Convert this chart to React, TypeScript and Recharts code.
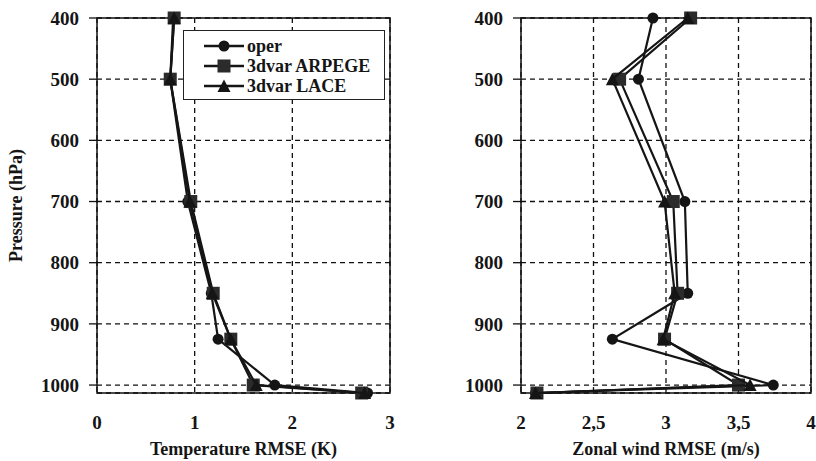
import React from "react";
import {
  ScatterChart,
  Scatter,
  XAxis,
  YAxis,
  CartesianGrid,
  ReferenceArea,
  Legend,
} from "recharts";

// pressure levels (hPa), surface last
const levels = [400, 500, 700, 850, 925, 1000, 1013];

// temperature RMSE (K)
const tempOper = [0.78, 0.75, 0.93, 1.17, 1.24, 1.82, 2.77];
const tempArpege = [0.79, 0.75, 0.96, 1.19, 1.37, 1.6, 2.71];
const tempLace = [0.79, 0.75, 0.95, 1.18, 1.37, 1.63, 2.74];

// zonal wind RMSE (m/s)
const windOper = [2.91, 2.81, 3.13, 3.15, 2.63, 3.74, 2.1];
const windArpege = [3.17, 2.68, 3.05, 3.08, 2.99, 3.5, 2.11];
const windLace = [3.15, 2.63, 2.99, 3.06, 2.98, 3.58, 2.1];

const pressureTicks = [400, 500, 600, 700, 800, 900, 1000];
const tempTicks = [0, 1, 2, 3];
const windTicks = [2, 2.5, 3, 3.5, 4];

const seriesNames = ["oper", "3dvar ARPEGE", "3dvar LACE"];

const FONT = '"Liberation Serif", "Times New Roman", serif';
const INK = "#151515";

const toPoints = (values: number[]) =>
  values.map((x, i) => ({ x, p: levels[i] }));

type Marker = "circle" | "square" | "triangle";
const markers: Marker[] = ["circle", "square", "triangle"];

function drawMarker(kind: Marker, cx: number, cy: number) {
  if (kind === "circle") return <circle cx={cx} cy={cy} r={5.5} fill={INK} />;
  if (kind === "square")
    return <rect x={cx - 6.5} y={cy - 6.5} width={13} height={13} fill="#2b2b2b" />;
  return (
    <polygon
      points={`${cx},${cy - 6.5} ${cx - 6.5},${cy + 6} ${cx + 6.5},${cy + 6}`}
      fill={INK}
    />
  );
}

const shapeFor = (kind: Marker) => (props: any) => drawMarker(kind, props.cx, props.cy);

function LegendBox() {
  return (
    <div
      style={{
        width: 202,
        height: 70,
        border: "1.5px solid #222",
        background: "#fff",
        boxSizing: "border-box",
        paddingTop: 5,
        fontFamily: FONT,
        fontWeight: "bold",
        fontSize: 18,
        color: INK,
      }}
    >
      {seriesNames.map((name, i) => (
        <div key={name} style={{ display: "flex", alignItems: "center", height: 20 }}>
          <svg width={64} height={20} style={{ marginLeft: 18 }}>
            <line x1={2} y1={10} x2={42} y2={10} stroke={INK} strokeWidth={2.5} />
            {drawMarker(markers[i], 22, 10)}
          </svg>
          <span style={{ marginLeft: -19 }}>{name}</span>
        </div>
      ))}
    </div>
  );
}

type PanelProps = {
  series: number[][];
  domain: [number, number];
  ticks: number[];
  xLabel: string;
  yLabel?: string;
  width: number;
  yAxisWidth: number;
  showLegend?: boolean;
  formatX?: (v: number) => string;
};

function ProfilePanel({
  series,
  domain,
  ticks,
  xLabel,
  yLabel,
  width,
  yAxisWidth,
  showLegend,
  formatX,
}: PanelProps) {
  const tickStyle = { fontFamily: FONT, fontWeight: "bold", fontSize: 19, fill: INK };
  return (
    <ScatterChart
      width={width}
      height={461}
      margin={{ top: 18, right: 5, bottom: 0, left: 0 }}
    >
      <CartesianGrid stroke="#111" strokeWidth={1.3} strokeDasharray="5 4" />
      <XAxis
        type="number"
        dataKey="x"
        domain={domain}
        ticks={ticks}
        axisLine={false}
        tickLine={false}
        tickSize={0}
        tickMargin={23}
        height={68}
        tick={tickStyle}
        tickFormatter={formatX}
        label={{
          value: xLabel,
          position: "insideBottom",
          offset: 6,
          style: { fontFamily: FONT, fontWeight: "bold", fontSize: 18, fill: INK },
        }}
      />
      <YAxis
        type="number"
        dataKey="p"
        reversed
        domain={[400, 1013]}
        ticks={pressureTicks}
        axisLine={false}
        tickLine={{ stroke: "#111", strokeWidth: 1.3 }}
        tickSize={8}
        tickMargin={10}
        width={yAxisWidth}
        tick={tickStyle}
        label={
          yLabel
            ? {
                value: yLabel,
                angle: -90,
                position: "insideLeft",
                offset: 0,
                dx: 16,
                style: {
                  textAnchor: "middle",
                  fontFamily: FONT,
                  fontWeight: "bold",
                  fontSize: 18,
                  fill: INK,
                },
              }
            : undefined
        }
      />
      <ReferenceArea
        x1={domain[0]}
        x2={domain[1]}
        y1={400}
        y2={1013}
        fill="none"
        stroke="#111"
        strokeWidth={1.5}
        fillOpacity={0}
      />
      {series.map((values, i) => (
        <Scatter
          key={seriesNames[i]}
          name={seriesNames[i]}
          data={toPoints(values)}
          line={{ stroke: INK, strokeWidth: 2.2 }}
          lineJointType="linear"
          shape={shapeFor(markers[i])}
          isAnimationActive={false}
        />
      ))}
      {showLegend && (
        <Legend
          layout="horizontal"
          verticalAlign="middle"
          align="center"
          content={() => <LegendBox />}
          wrapperStyle={{ left: 183, top: 30, width: 202, height: 70 }}
        />
      )}
    </ScatterChart>
  );
}

export default function App() {
  return (
    <div
      style={{
        position: "absolute",
        left: 0,
        top: 0,
        width: 816,
        height: 461,
        background: "#fff",
        display: "flex",
      }}
    >
      <div style={{ width: 420 }}>
        <ProfilePanel
          series={[tempOper, tempArpege, tempLace]}
          domain={[0, 3]}
          ticks={tempTicks}
          xLabel="Temperature RMSE (K)"
          yLabel="Pressure (hPa)"
          width={395}
          yAxisWidth={97}
          showLegend
        />
      </div>
      <div style={{ width: 396 }}>
        <ProfilePanel
          series={[windOper, windArpege, windLace]}
          domain={[2, 4]}
          ticks={windTicks}
          xLabel="Zonal wind RMSE (m/s)"
          width={396}
          yAxisWidth={101}
          formatX={(v) => String(v).replace(".", ",")}
        />
      </div>
    </div>
  );
}
